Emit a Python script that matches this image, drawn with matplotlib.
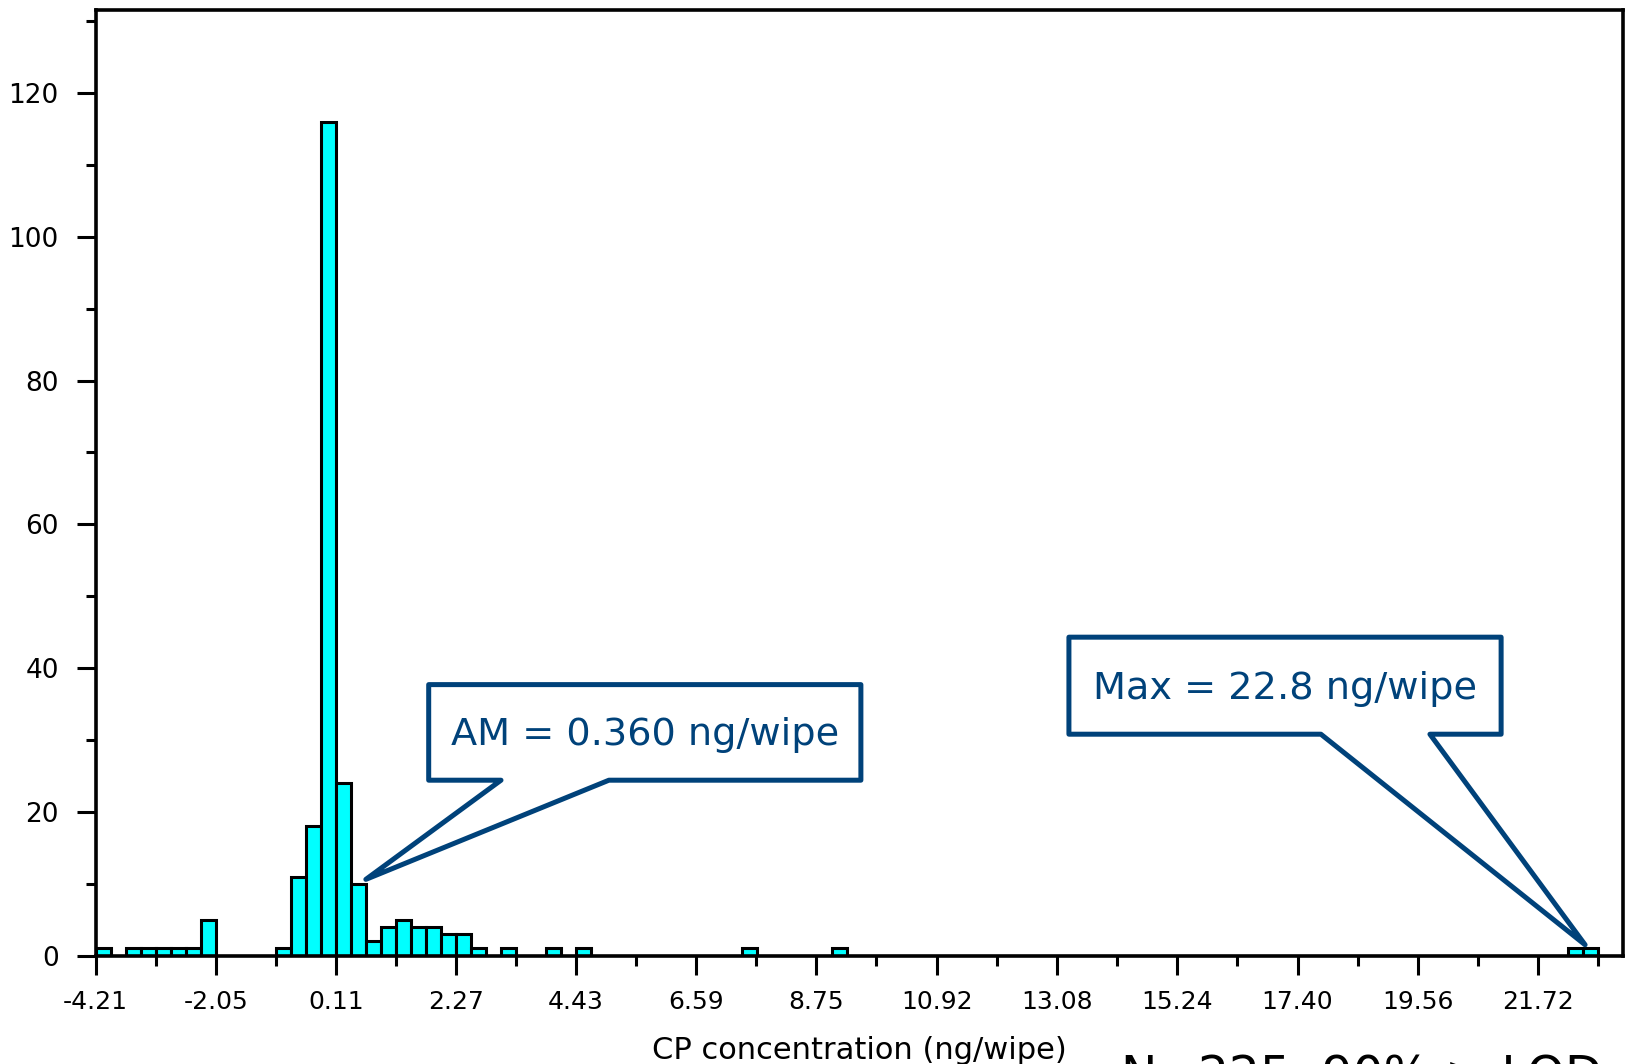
import matplotlib
matplotlib.use('Agg')
import matplotlib.pyplot as plt
from matplotlib.patches import Polygon
from matplotlib.ticker import FixedLocator
import numpy as np

# histogram: 100 equal bins between the min and max concentration
hist_min = -4.21
hist_max = 22.80
counts = [1, 0, 1, 1, 1, 1, 1, 5, 0, 0,
          0, 0, 1, 11, 18, 116, 24, 10, 2, 4,
          5, 4, 4, 3, 3, 1, 0, 1, 0, 0,
          1, 0, 1, 0, 0, 0, 0, 0, 0, 0,
          0, 0, 0, 1, 0, 0, 0, 0, 0, 1,
          0, 0, 0, 0, 0, 0, 0, 0, 0, 0,
          0, 0, 0, 0, 0, 0, 0, 0, 0, 0,
          0, 0, 0, 0, 0, 0, 0, 0, 0, 0,
          0, 0, 0, 0, 0, 0, 0, 0, 0, 0,
          0, 0, 0, 0, 0, 0, 0, 0, 1, 1]

x_ticks = [-4.21, -2.05, 0.11, 2.27, 4.43, 6.59, 8.75, 10.92, 13.08, 15.24, 17.40, 19.56, 21.72]
x_ticklabels = ['-4.21', '-2.05', '0.11', '2.27', '4.43', '6.59', '8.75', '10.92',
                '13.08', '15.24', '17.40', '19.56', '21.72']
y_ticks = [0, 20, 40, 60, 80, 100, 120]

am_text = 'AM = 0.360 ng/wipe'
max_text = 'Max = 22.8 ng/wipe'
n_text = 'N=225, 90% > LOD'

navy = '#00427a'

fig = plt.figure(figsize=(16.27, 10.64), dpi=100)
ax = fig.add_axes([0.0587, 0.1019, 0.9388, 0.8883])

edges = np.linspace(hist_min, hist_max, len(counts) + 1)
nz = np.array(counts) > 0
ax.bar(edges[:-1][nz], np.array(counts)[nz], width=np.diff(edges)[nz], align='edge',
       color='#00ffff', edgecolor='black', linewidth=2.2, zorder=2)

ax.set_xlim(-4.21, 23.25)
ax.set_ylim(0, 131.5)

ax.xaxis.set_major_locator(FixedLocator(x_ticks))
ax.set_xticklabels(x_ticklabels)
step = x_ticks[1] - x_ticks[0]
ax.xaxis.set_minor_locator(FixedLocator([t + step / 2 for t in x_ticks]))
ax.set_yticks(y_ticks)
ax.yaxis.set_minor_locator(FixedLocator([10, 30, 50, 70, 90, 110, 130]))

ax.tick_params(axis='both', which='major', length=13.5, width=2.2, color='black')
ax.tick_params(axis='both', which='minor', length=7, width=2.2)
ax.tick_params(axis='y', which='major', pad=13, labelsize=19)
ax.tick_params(axis='x', which='major', pad=11, labelsize=18)
for s in ax.spines.values():
    s.set_linewidth(2.6)

ax.set_xlabel('CP concentration (ng/wipe)', fontsize=22, va='center')
ax.xaxis.set_label_coords(0.5, -0.1)


def callout(box, base, tip, text):
    x0, x1, y0, y1 = box
    pts = [(x0, y1), (x1, y1), (x1, y0), (base[1], y0), tip, (base[0], y0), (x0, y0)]
    ax.add_patch(Polygon(pts, closed=True, facecolor='white', edgecolor=navy, linewidth=3.6,
                         joinstyle='round', zorder=5, clip_on=False))
    ax.text((x0 + x1) / 2, (y0 + y1) / 2 - 0.4, text, color=navy, fontsize=27.5,
            ha='center', va='center', zorder=6)


callout((1.78, 9.55, 24.4, 37.7), (3.08, 5.02), (0.65, 10.6), am_text)
callout((13.29, 21.06, 30.8, 44.3), (17.82, 19.78), (22.57, 1.5), max_text)

# text running off the bottom edge, as in the original slide
fig.text(1121 / 1627, -0.0258, n_text, fontsize=35, color='black', ha='left', va='baseline')

fig.savefig('out.png', dpi=100)
